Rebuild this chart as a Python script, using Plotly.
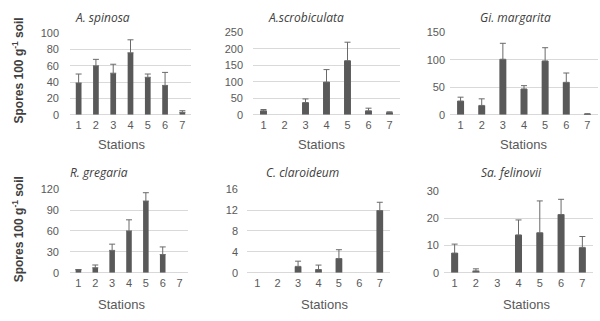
import plotly.graph_objects as go

stations = ["1", "2", "3", "4", "5", "6", "7"]

titles = ["A. spinosa", "A.scrobiculata", "Gi. margarita",
          "R. gregaria", "C. claroideum", "Sa. felinovii"]

spinosa = [39, 60, 51, 76, 46, 36, 3]
spinosa_err = [11, 8, 11, 16, 4, 16, 2]
scrobiculata = [12, None, 37, 99, 164, 12, 7]
scrobiculata_err = [4, None, 11, 38, 56, 8, 2]
margarita = [25, 17, 101, 47, 98, 59, 1]
margarita_err = [7, 12, 29, 6, 24, 17, 1]
gregaria = [4, 7, 32, 60, 103, 26, None]
gregaria_err = [0.5, 4, 9, 16, 12, 11, None]
claroideum = [None, None, 1.2, 0.6, 2.7, None, 11.9]
claroideum_err = [None, None, 1.0, 0.85, 1.7, None, 1.6]
felinovii = [7.2, 0.6, None, 13.9, 14.7, 21.4, 9.3]
felinovii_err = [3.3, 0.8, None, 5.5, 11.7, 5.6, 4.0]

series = [spinosa, scrobiculata, margarita, gregaria, claroideum, felinovii]
errors = [spinosa_err, scrobiculata_err, margarita_err, gregaria_err, claroideum_err, felinovii_err]
y_max = [100, 250, 150, 120, 16, 30]
y_dtick = [20, 50, 50, 30, 4, 10]

W, H = 600, 321
# pixel layouts: (x0, x1, ytop, ybottom)
boxes = [(70, 191, 28, 113), (253, 400, 27, 113), (450, 598, 27, 113),
         (70, 188, 190, 277), (247, 390, 190, 277), (444, 593, 192, 277)]
standoff = [10, 9, 4, 10, 8, 4]
title_pos = [(102, 12), (306, 12), (515, 12), (99, 173), (302, 173), (511, 173)]
stations_pos = [(121, 144), (321, 144), (523, 144), (121, 310), (324, 310), (526, 310)]

BAR = "#595959"
ERR = "#6a6a6a"
GRID = "#d9d9d9"
TXT = "#595959"

fig = go.Figure()
layout = dict(width=W, height=H, margin=dict(l=0, r=0, t=0, b=0),
              paper_bgcolor="white", plot_bgcolor="white", showlegend=False,
              font=dict(family="Liberation Sans, Arial", color=TXT, size=11))
annotations = []
for i in range(6):
    n = "" if i == 0 else str(i + 1)
    fig.add_trace(go.Bar(
        x=stations, y=series[i], width=0.33, marker=dict(color=BAR, line=dict(width=0)),
        error_y=dict(type="data", array=errors[i], arrayminus=[0] * 7, symmetric=False,
                     color=ERR, thickness=1, width=3),
        xaxis="x" + n, yaxis="y" + n))
    x0, x1, yt, yb = boxes[i]
    layout["xaxis" + n] = dict(domain=[x0 / W, x1 / W], anchor="y" + n,
                               type="category", showgrid=False, zeroline=False,
                               showline=False, ticks="", tickfont=dict(size=11, color=TXT),
                               ticklabelstandoff=2)
    layout["yaxis" + n] = dict(domain=[(H - yb) / H, (H - yt) / H], anchor="x" + n,
                               range=[0, y_max[i] * 1.004], dtick=y_dtick[i], tick0=0,
                               showgrid=True, gridcolor=GRID, gridwidth=1,
                               zeroline=True, zerolinecolor=GRID, zerolinewidth=1,
                               showline=False, ticks="", tickfont=dict(size=11, color=TXT),
                               ticklabelstandoff=standoff[i])
    tx, ty = title_pos[i]
    annotations.append(dict(text="<i>" + titles[i] + "</i>", x=tx / W, y=1 - ty / H,
                            xref="paper", yref="paper", showarrow=False,
                            xanchor="center", yanchor="middle",
                            font=dict(family="Open Sans", size=12, color="#404040")))
    sx, sy = stations_pos[i]
    annotations.append(dict(text="Stations", x=sx / W, y=1 - sy / H,
                            xref="paper", yref="paper", showarrow=False,
                            xanchor="center", yanchor="middle",
                            font=dict(family="Liberation Sans, Arial", size=13, color=TXT)))

for cy in (67, 232):
    annotations.append(dict(text="<b>Spores 100 g<sup>-1</sup> soil</b>", x=18 / W, y=1 - cy / H,
                            xref="paper", yref="paper", showarrow=False, textangle=-90,
                            xanchor="center", yanchor="middle",
                            font=dict(family="Liberation Sans, Arial", size=12, color="#404040")))

layout["annotations"] = annotations
fig.update_layout(**layout)
fig.write_html("out.html", config={"displayModeBar": False},
               post_script="document.body.style.margin='0';document.body.style.overflow='hidden';")
